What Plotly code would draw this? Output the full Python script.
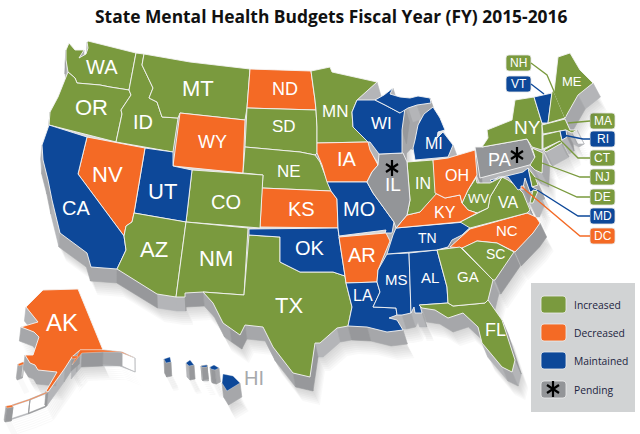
import plotly.graph_objects as go

TITLE = "State Mental Health Budgets Fiscal Year (FY) 2015-2016"

INCREASED = ["WA", "OR", "ID", "MT", "SD", "NE", "CO", "AZ", "NM", "TX", "MN", "IN", "WV", "VA",
             "GA", "SC", "FL", "NY", "NH", "ME", "MA", "CT", "NJ", "DE"]
DECREASED = ["ND", "WY", "NV", "KS", "IA", "AR", "OH", "KY", "NC", "DC", "AK"]
MAINTAINED = ["CA", "UT", "OK", "MO", "LA", "MS", "AL", "TN", "WI", "MI", "VT", "RI", "MD", "HI"]
PENDING = ["IL", "PA"]

GREEN = "#7a9a3e"
ORANGE = "#f46a25"
BLUE = "#0d4899"
GREY = "#939598"

# state outlines (no topojson without network)
OUTLINES = {
    "WA": [(69,43),(75,50),(84,50),(79,58),(86,54),(88,48),(87,42),(88,41),(136,53),(129,90),(110,87),(100,85),(88,84),(77,83),(75,78),(68,72),(66,60),(66,50)],
    "OR": [(68,72),(75,78),(77,83),(88,84),(100,85),(110,87),(129,90),(131,95),(121,110),(122,114),(116,142),(49,125),(50,112),(58,97)],
    "ID": [(136,53),(144,54),(142,65),(153,88),(149,98),(157,102),(162,117),(178,118),(173,152),(116,142),(122,114),(121,110),(131,95),(129,90)],
    "MT": [(144,54),(190,62),(250,69),(247,108),(245,120),(180,113),(178,118),(162,117),(157,102),(149,98),(153,88),(142,65)],
    "ND": [(250,69),(311,71),(315,100),(316,110),(247,108)],
    "SD": [(247,108),(316,110),(317,127),(317,143),(317,153),(315,155),(300,152),(245,147)],
    "WY": [(180,113),(245,120),(243,173),(173,166)],
    "NE": [(245,147),(300,152),(315,155),(320,162),(325,175),(331,191),(262,188),(263,175),(243,173)],
    "KS": [(262,188),(331,191),(337,199),(338,228),(260,227)],
    "CO": [(192,170),(263,175),(260,228),(186,222)],
    "UT": [(145,148),(173,152),(173,166),(192,170),(186,222),(134,213)],
    "NV": [(87,137),(145,148),(134,213),(132,222),(126,226),(124,236),(78,174)],
    "CA": [(49,125),(87,137),(78,174),(124,236),(126,250),(117,269),(91,267),(87,253),(60,233),(52,200),(48,180),(43,160),(42,145)],
    "AZ": [(134,213),(186,222),(176,297),(157,294),(117,269),(126,250),(124,236),(126,226),(132,222)],
    "NM": [(186,222),(248,228),(244,295),(203,292),(185,293),(185,297),(176,297)],
    "TX": [(249,235),(280,237),(280,262),(300,272),(320,272),(333,272),(345,276),(346,283),(352,307),(348,326),(337,328),(320,343),(315,343),(310,377),(293,373),(273,347),(263,327),(245,325),(240,335),(230,328),(223,323),(213,303),(203,292),(244,295)],
    "OK": [(249,229),(338,228),(339,237),(345,276),(333,272),(320,272),(300,272),(280,262),(280,237),(249,235)],
    "MN": [(311,71),(330,67),(332,72),(350,76),(377,82),(357,100),(352,112),(353,127),(368,142),(317,143),(317,127),(316,110),(315,100)],
    "IA": [(317,143),(368,142),(370,150),(378,165),(372,172),(367,182),(327,182),(322,165),(317,153)],
    "MO": [(327,182),(367,182),(373,193),(383,207),(394,222),(392,233),(385,233),(386,230),(339,236),(338,228),(337,199),(331,191)],
    "AR": [(339,237),(386,233),(390,241),(378,270),(377,282),(346,283),(345,276)],
    "LA": [(346,283),(377,282),(380,292),(373,307),(396,308),(397,315),(389,318),(397,320),(403,330),(387,332),(367,327),(348,326),(352,307)],
    "MS": [(387,254),(409,253),(411,313),(402,315),(397,315),(396,308),(373,307),(380,292),(377,282),(378,270)],
    "AL": [(409,253),(437,250),(447,287),(448,303),(420,305),(422,313),(415,313),(414,307),(411,313)],
    "TN": [(387,254),(393,235),(396,228),(460,222),(477,221),(462,235),(452,240),(448,247),(437,250)],
    "NC": [(450,247),(470,229),(527,213),(536,217),(540,223),(533,233),(515,252),(497,243),(477,241),(463,248)],
    "VA": [(460,222),(477,213),(488,208),(490,197),(502,177),(508,180),(515,185),(523,193),(527,203),(530,210),(527,213),(470,228)],
    "WV": [(462,203),(468,190),(476,178),(477,183),(490,183),(502,177),(490,197),(488,208),(477,213),(468,210)],
    "KY": [(396,228),(407,215),(420,212),(435,193),(445,198),(460,195),(462,203),(468,210),(477,213),(460,222)],
    "IN": [(407,162),(433,160),(437,193),(420,212),(407,215),(410,200)],
    "IL": [(379,154),(403,153),(407,162),(410,200),(407,215),(396,228),(394,222),(383,207),(373,193),(367,182),(372,172),(378,165)],
    "WI": [(357,100),(375,100),(385,105),(400,113),(405,108),(402,130),(402,153),(379,154),(370,142),(368,142),(353,127),(352,112)],
    "MI": [(415,160),(413,148),(415,140),(418,125),(424,114),(433,107),(440,118),(445,130),(438,132),(437,138),(443,132),(453,145),(448,157)],
    "MI_up": [(375,100),(384,95),(393,88),(390,94),(400,97),(410,98),(418,96),(430,98),(431,103),(417,105),(408,108),(400,113),(385,105)],
    "OH": [(433,160),(448,158),(475,150),(477,175),(468,190),(462,203),(460,195),(445,198),(435,193)],
    "PA": [(475,147),(482,147),(527,139),(530,145),(537,163),(480,178)],
    "NY": [(534,97),(515,100),(512,120),(487,130),(488,138),(482,147),(527,139),(532,147),(542,150),(542,130),(542,123)],
    "NY_li": [(544,150),(560,141),(562,143),(546,152)],
    "VT": [(534,97),(552,93),(548,123),(542,123)],
    "NH": [(552,92),(556,87),(565,118),(548,123)],
    "ME": [(558,57),(570,53),(580,70),(593,83),(578,95),(565,118),(554,92)],
    "MA": [(542,125),(565,119),(570,130),(577,130),(572,133),(566,130),(560,131),(543,134)],
    "CT": [(543,135),(560,131),(562,140),(543,149)],
    "RI": [(560,131),(566,130),(567,137),(562,140)],
    "NJ": [(532,148),(543,153),(542,173),(535,170),(530,165),(535,157)],
    "DE": [(528,168),(535,177),(538,185),(532,187)],
    "MD": [(490,180),(523,172),(528,168),(532,187),(538,190),(530,192),(525,178),(523,188),(518,190),(508,177),(498,177),(492,182)],
    "DC": [(521,186),(524,186),(524,189),(521,189)],
    "VA_shore": [(533,190),(538,191),(533,203),(530,203)],
    "FL": [(419,305),(448,303),(453,306),(485,303),(488,300),(502,320),(515,360),(512,372),(502,367),(482,343),(478,327),(463,313),(448,318),(435,310),(422,308)],
    "GA": [(437,250),(460,247),(493,280),(488,300),(485,303),(453,306),(448,303),(447,287)],
    "SC": [(462,248),(477,241),(497,243),(514,252),(495,280),(493,280)],
    "AK": [(43,290),(78,289),(103,350),(80,350),(72,357),(65,368),(48,392),(46,391),(57,372),(38,370),(35,365),(30,363),(25,355),(33,355),(39,337),(34,332),(21,327),(38,322),(26,307)],
    "AK_pen": [(47,392),(30,399),(12,405),(12,406),(30,400),(47,393)],
    "AK_pan": [(80,350),(103,350),(122,352),(135,358),(120,352),(103,352),(82,353),(72,365)],
    "AK_kod": [(72,356),(78,356),(77,358),(72,359)],
    "AK_isl1": [(18,364),(23,362),(24,364),(19,366)],
    "AK_isl2": [(6,406),(12,405),(13,407),(7,408)],
    "HI_big": [(223,374),(233,376),(240,383),(227,391),(222,383)],
    "HI_kauai": [(164,359),(170,357),(171,362),(166,363)],
    "HI_oahu": [(186,363),(190,360),(194,365),(189,366)],
    "HI_maui": [(210,367),(214,365),(219,368),(215,370),(211,369)],
    "HI_mol": [(201,366),(207,365),(207,367),(202,367)],
}

# grey seen through Lake Michigan, under the tops
LAKE_WALL = [(402,113),(418,106),(420,118),(415,140),(416,152),(411,149),(405,155),(402,130)]

LABELS = {
    "WA": (102, 67, 20), "OR": (91, 107, 22), "MT": (198, 88, 22), "ND": (285, 89, 18), "SD": (284, 126, 17),
    "WY": (212, 142, 18), "ID": (143, 122, 20), "NV": (107, 174, 22), "UT": (162, 191, 22), "CA": (76, 208, 20),
    "CO": (226, 202, 20), "NE": (289, 171, 17), "KS": (301, 209, 20), "AZ": (154, 249, 22), "NM": (216, 258, 22),
    "OK": (310, 248, 20), "TX": (289, 305, 22), "MN": (335, 111, 17), "IA": (347, 159, 20), "WI": (381, 123, 17),
    "MI": (434, 143, 16), "IL": (393, 184, 19), "IN": (423, 183, 16), "OH": (457, 175, 16), "KY": (445, 212, 16),
    "WV": (478, 198, 13), "VA": (508, 202, 16), "PA": (499, 160, 18), "NY": (527, 127, 19), "ME": (572, 81, 13),
    "MO": (359, 209, 20), "AR": (362, 255, 20), "TN": (427, 238, 14), "NC": (507, 230, 15), "SC": (495, 254, 14),
    "GA": (468, 276, 15), "AL": (430, 277, 15), "MS": (396, 279, 15), "LA": (363, 295, 16), "FL": (495, 330, 18),
    "AK": (62, 322, 24),
}

# callout pills: state, pill top, leader bend and leader end
CALLOUTS = {
    "NH": (506, 55, [(531, 63), (547, 75), (565, 117)]),
    "VT": (506, 76, [(531, 84), (544, 94)]),
    "MA": (590, 113, [(590, 121), (568, 123)]),
    "RI": (590, 131, [(590, 139), (583, 139), (563, 135)]),
    "CT": (590, 150, [(590, 158), (578, 158), (560, 140)]),
    "NJ": (590, 169, [(590, 177), (580, 177), (542, 163)]),
    "DE": (590, 189, [(590, 197), (577, 197), (533, 177)]),
    "MD": (590, 208, [(590, 216), (578, 216), (537, 190)]),
    "DC": (590, 228, [(590, 236), (580, 236), (523, 188)]),
}

LEGEND_NAMES = ["Increased", "Decreased", "Maintained", "Pending"]
LEGEND_COLORS = [GREEN, ORANGE, BLUE, GREY]
LEGEND_TOPS = [296, 324, 352, 381]

ASTERISKS = [(392, 168), (517, 155), (553, 389)]

status = {}
for names, col in zip([INCREASED, DECREASED, MAINTAINED, PENDING], LEGEND_COLORS):
    for n in names:
        status[n] = col

WALL_HEIGHT = 14
WALL_SHADES = ["#b4b5b8", "#a6a7aa", "#97989b"]


def lean(x):
    # the walls lean left on the west coast and right on the east coast
    return -2 + x * 0.016


def inside(p, ring):
    x, y = p
    hit = False
    for i in range(len(ring)):
        x1, y1 = ring[i]
        x2, y2 = ring[(i + 1) % len(ring)]
        if (y1 > y) != (y2 > y) and x < x1 + (y - y1) * (x2 - x1) / (y2 - y1):
            hit = not hit
    return hit


def rounded(x0, y0, x1, y1, r):
    return (f"M{x0+r},{y0} L{x1-r},{y0} Q{x1},{y0} {x1},{y0+r} L{x1},{y1-r} Q{x1},{y1} {x1-r},{y1} "
            f"L{x0+r},{y1} Q{x0},{y1} {x0},{y1-r} L{x0},{y0+r} Q{x0},{y0} {x0+r},{y0} Z")


fig = go.Figure()

# soft shadow under the map
for k in range(1, 8):
    xs, ys = [], []
    for ring in OUTLINES.values():
        for px, py in ring + ring[:1]:
            xs.append(px + lean(px) + k)
            ys.append(py + WALL_HEIGHT + k * 2)
        xs.append(None)
        ys.append(None)
    fig.add_trace(go.Scatter(x=xs, y=ys, mode="lines", fill="toself", line=dict(width=0),
                             fillcolor="rgba(80,80,85,0.035)", hoverinfo="skip"))

fig.add_trace(go.Scatter(x=[p[0] for p in LAKE_WALL + LAKE_WALL[:1]], y=[p[1] for p in LAKE_WALL + LAKE_WALL[:1]],
                         mode="lines", fill="toself", fillcolor="#a6a7aa", line=dict(width=0), hoverinfo="skip"))

# extruded walls, only for edges that stick out from the tops
walls = {c: ([], []) for c in WALL_SHADES}
rings = list(OUTLINES.values())
for ring in rings:
    for i in range(len(ring)):
        a = ring[i]
        b = ring[(i + 1) % len(ring)]
        mx = (a[0] + b[0]) / 2
        mid = (mx + lean(mx) * 0.15, (a[1] + b[1]) / 2 + WALL_HEIGHT * 0.15)
        if any(inside(mid, r) for r in rings):
            continue
        dx = b[0] - a[0]
        dy = b[1] - a[1]
        shade = WALL_SHADES[(int(abs(dx) * 3 + abs(dy) * 5)) % 3]
        xs, ys = walls[shade]
        xs += [a[0], b[0], b[0] + lean(b[0]), a[0] + lean(a[0]), a[0], None]
        ys += [a[1], b[1], b[1] + WALL_HEIGHT, a[1] + WALL_HEIGHT, a[1], None]
for shade, (xs, ys) in walls.items():
    fig.add_trace(go.Scatter(x=xs, y=ys, mode="lines", fill="toself", fillcolor=shade,
                             line=dict(width=0.6, color=shade), hoverinfo="skip"))

# state tops
for code, ring in OUTLINES.items():
    closed = ring + ring[:1]
    edge = 0.3 if code[:3] in ("HI_", "AK_") else 0.9
    fig.add_trace(go.Scatter(x=[p[0] for p in closed], y=[p[1] for p in closed], mode="lines",
                             fill="toself", fillcolor=status[code[:2]],
                             line=dict(color="#f4f4f4", width=edge), hoverinfo="skip"))

# state labels
annotations = []
for code, (lx, ly, size) in LABELS.items():
    annotations.append(dict(x=lx, y=ly, text=code, showarrow=False, xref="x", yref="y",
                            font=dict(family="Liberation Sans", size=size, color="white")))
annotations.append(dict(x=254, y=378, text="HI", showarrow=False, xref="x", yref="y",
                        font=dict(family="Liberation Sans", size=20, color="#a7a9ac")))

# callouts
shapes = []
for code, (px, py, leader) in CALLOUTS.items():
    col = status[code]
    fig.add_trace(go.Scatter(x=[p[0] for p in leader], y=[p[1] for p in leader], mode="lines",
                             line=dict(color=col, width=1.3), hoverinfo="skip"))
    shapes.append(dict(type="path", path=rounded(px, py, px + 25, py + 16, 3), fillcolor=col,
                       line=dict(color="#e6e6e6", width=0.8), layer="below"))
    annotations.append(dict(x=px + 12.5, y=py + 8, text=code, showarrow=False, xref="x", yref="y",
                            font=dict(family="Liberation Sans", size=12, color="white")))

# legend panel
shapes.append(dict(type="rect", x0=531, x1=635, y0=283, y1=412, fillcolor="#d1d3d4",
                   line=dict(width=0), layer="below"))
for name, col, top in zip(LEGEND_NAMES, LEGEND_COLORS, LEGEND_TOPS):
    shapes.append(dict(type="path", path=rounded(541, top, 566, top + 17, 3), fillcolor=col,
                       line=dict(color="#eeeeee", width=0.8), layer="below"))
    annotations.append(dict(x=572, y=top + 8.5, text=name, showarrow=False, xref="x", yref="y", xanchor="left",
                            font=dict(family="Open Sans", size=10.3, color="#1c2440")))

# six armed asterisks: two Y markers on top of each other
for symbol in ["y-up-open", "y-down-open"]:
    fig.add_trace(go.Scatter(x=[a[0] for a in ASTERISKS], y=[a[1] for a in ASTERISKS], mode="markers",
                             marker=dict(symbol=symbol, size=10, color="black", line=dict(color="black", width=2.2)),
                             hoverinfo="skip"))

annotations.append(dict(x=331, y=16, text="<b>" + TITLE + "</b>", showarrow=False, xref="x", yref="y",
                        font=dict(family="Open Sans", size=17.4, color="#111111")))

fig.update_layout(width=640, height=434, autosize=False, margin=dict(l=0, r=0, t=0, b=0),
                  showlegend=False, paper_bgcolor="white", plot_bgcolor="white",
                  xaxis=dict(range=[0, 640], visible=False, fixedrange=True),
                  yaxis=dict(range=[434, 0], visible=False, fixedrange=True),
                  shapes=shapes, annotations=annotations)

fig.write_html("out.html", config=dict(displayModeBar=False),
               post_script="document.body.style.margin='0';document.body.style.overflow='hidden';")
